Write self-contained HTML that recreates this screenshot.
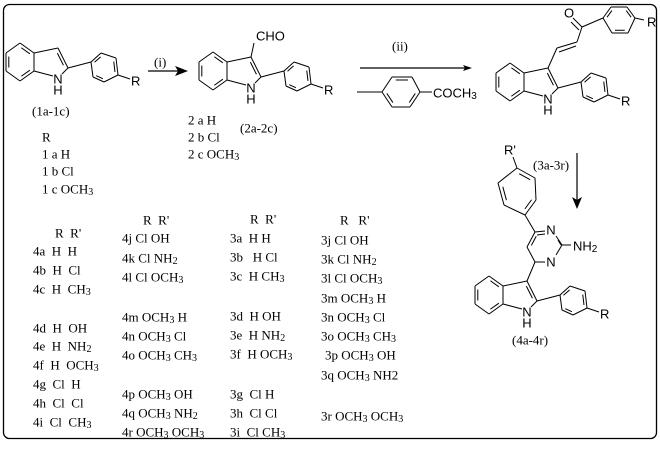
<!DOCTYPE html>
<html><head><meta charset="utf-8"><style>
html,body{margin:0;padding:0;background:#fff;}
svg{display:block;}
svg text{font-family:"Liberation Serif","Times New Roman","DejaVu Serif",serif;}
svg text.s{font-family:"Liberation Sans",Arial,sans-serif;}
</style></head><body>
<svg id="g" width="660" height="451" viewBox="0 0 660 451" xmlns="http://www.w3.org/2000/svg" font-size="13">
<rect x="3.5" y="4.5" width="653" height="434" rx="6" fill="none" stroke="#000" stroke-width="1.3"/>
<g stroke="#000" stroke-width="1" fill="none" id="L"></g>
<g stroke="#000" stroke-width="1.2">
<line x1="148" y1="71" x2="178" y2="71"/>
<line x1="360" y1="68" x2="465" y2="68"/>
<line x1="577" y1="153" x2="577" y2="200"/>
</g>
<polygon points="188,71 175,66 178,71 175,76" fill="#000"/>
<polygon points="472,68 463,65 465,68 463,71" fill="#000"/>
<polygon points="577,209 572,197 577,200 582,197" fill="#000"/>
<text x="154" y="62" dominant-baseline="central">(i)</text>
<text x="392" y="46" dominant-baseline="central">(ii)</text>
<text class="s" x="433" y="93" dominant-baseline="central">COCH<tspan font-size="10" dy="3">3</tspan></text>
<text x="32" y="111" dominant-baseline="central">(1a-1c)</text>
<text x="42" y="137" dominant-baseline="central">R</text>
<text x="42" y="154" dominant-baseline="central">1 a H</text>
<text x="42" y="171" dominant-baseline="central">1 b Cl</text>
<text x="42" y="189" dominant-baseline="central">1 c OCH<tspan font-size="10" dy="3">3</tspan></text>
<text x="188" y="120" dominant-baseline="central">2 a H</text>
<text x="188" y="137" dominant-baseline="central">2 b Cl</text>
<text x="188" y="154" dominant-baseline="central">2 c OCH<tspan font-size="10" dy="3">3</tspan></text>
<text x="240" y="128" dominant-baseline="central">(2a-2c)</text>
<text class="s" x="256" y="36" dominant-baseline="central">CHO</text>
<text x="533" y="165" dominant-baseline="central">(3a-3r)</text>
<text x="512" y="340" dominant-baseline="central">(4a-4r)</text>
<text class="s" x="504" y="150" dominant-baseline="central">R'</text>
<text class="s" x="569" y="13" text-anchor="middle" dominant-baseline="central">O</text>
<text class="s" x="647" y="22" dominant-baseline="central">R</text>
<text class="s" x="551" y="230" text-anchor="middle" dominant-baseline="central">N</text>
<text class="s" x="551" y="262" text-anchor="middle" dominant-baseline="central">N</text>
<text class="s" x="573" y="246" dominant-baseline="central">NH<tspan font-size="10" dy="3">2</tspan></text>
</svg>
<script>
var NS='http://www.w3.org/2000/svg';
var L=document.getElementById('L'),svg=document.getElementById('g');
function ln(a,b,c,d){var e=document.createElementNS(NS,'line');e.setAttribute('x1',a);e.setAttribute('y1',b);e.setAttribute('x2',c);e.setAttribute('y2',d);L.appendChild(e);}
function tx(x,y,s,sans,anc){var e=document.createElementNS(NS,'text');e.setAttribute('x',x);e.setAttribute('y',y);e.setAttribute('dominant-baseline','central');if(sans)e.setAttribute('class','s');if(anc)e.setAttribute('text-anchor',anc);e.innerHTML=s;svg.appendChild(e);}
function inner(p,q,c,f){
 var k=0.2,a=[p[0]+(c[0]-p[0])*k,p[1]+(c[1]-p[1])*k],b=[q[0]+(c[0]-q[0])*k,q[1]+(c[1]-q[1])*k];
 var dx=b[0]-a[0],dy=b[1]-a[1];f=f||0.12;
 ln(a[0]+dx*f,a[1]+dy*f,b[0]-dx*f,b[1]-dy*f);}
function ring(pts,dbl){var n=pts.length,cx=0,cy=0;pts.forEach(function(p){cx+=p[0];cy+=p[1];});cx/=n;cy/=n;
 for(var i=0;i<n;i++){var p=pts[i],q=pts[(i+1)%n];ln(p[0],p[1],q[0],q[1]);}
 (dbl||[]).forEach(function(i){inner(pts[i],pts[(i+1)%n],[cx,cy]);});}
function indole(cx,cy){
 function P(x,y){return [cx+x,cy+y];}
 var b=[P(0,-19),P(14,-9),P(14,9),P(0,19),P(-14,9),P(-14,-9)];
 ring(b,[0,2,4]);
 var C3=P(38,-14),C2=P(48,6),N=P(38,16);
 ln(b[1][0],b[1][1],C3[0],C3[1]);ln(C3[0],C3[1],C2[0],C2[1]);
 inner(C3,C2,P(30,2));
 ln(C2[0],C2[1],N[0]+4,N[1]-4);ln(b[2][0],b[2][1],N[0]-5,N[1]-2);
 tx(N[0],N[1]+1,'N',1,'middle');tx(N[0],N[1]+12,'H',1,'middle');
 var ph=[P(71,0),P(81,-9),P(96,-4),P(98,13),P(84,20),P(73,15)];
 ln(C2[0],C2[1],ph[0][0],ph[0][1]);
 ring(ph,[0,2,4]);
 ln(ph[3][0],ph[3][1],cx+110,cy+17);
 tx(cx+111,cy+19,'R',1);
 return {C3:C3};
}
indole(20,62);
var i2=indole(213,71);ln(i2.C3[0],i2.C3[1],i2.C3[0]+3,43);
var i3=indole(510,82);
ln(i3.C3[0],i3.C3[1],557,48);ln(557,48,577,42);ln(559,52,576,46);ln(577,42,582,27);
ln(582,27,573,18);ln(579,30,571,22);
var ph3=[[603,18],[611,7],[627,7],[635,18],[628,33],[612,33]];
ln(582,27,603,18);ring(ph3,[0,2,4]);ln(635,18,644,20);
var i4=indole(489,295);
ln(i4.C3[0],i4.C3[1],535,262);
ln(535,262,545,262);ln(535,262,527,247);ln(527,247,535,232);inner([527,247],[535,232],[545,246]);
ln(535,232,545,231);ln(537,235,545,234);
ln(556,236,562,245);ln(558,240,561,245);ln(562,245,556,255);ln(562,245,571,245);
var ph4=[[517,168],[535,178],[536,200],[525,215],[504,205],[498,183]];
ring(ph4,[0,2,4]);ln(525,215,535,232);ln(517,168,513,157);
var rr=[[382,92],[392,77],[412,77],[420,92],[410,107],[392,107]];
ring(rr,[1,3,5]);ln(357,92,382,92);ln(420,92,432,92);
function sub(s){
 return s.replace(/H3/g,'H<tspan font-size="10" dy="3">3</tspan><tspan dy="-3">\u200b</tspan>')
         .replace(/NH2/g,'NH<tspan font-size="10" dy="3">2</tspan><tspan dy="-3">\u200b</tspan>');}
var rows=[
[33,[[55,233,"R  R'"],[0,251,"4a  H  H"],[0,270,"4b  H  Cl"],[0,289,"4c  H  CH3"],[0,328,"4d  H  OH"],[0,346,"4e  H  NH2"],[0,365,"4f  H  OCH3"],[0,384,"4g  Cl  H"],[0,403,"4h  Cl  Cl"],[0,422,"4i  Cl  CH3"]]],
[122,[[143,220,"R  R'"],[0,238,"4j Cl OH"],[0,258,"4k Cl NH2"],[0,277,"4l Cl OCH3"],[0,317,"4m OCH3 H"],[0,336,"4n OCH3 Cl"],[0,355,"4o OCH3 CH3"],[0,394,"4p OCH3 OH"],[0,413,"4q OCH3 NH2"],[0,432,"4r OCH3 OCH3"]]],
[230,[[250,219,"R  R'"],[0,238,"3a  H H"],[0,257,"3b   H Cl"],[0,276,"3c  H CH3"],[0,316,"3d  H OH"],[0,335,"3e  H NH2"],[0,354,"3f  H OCH3"],[0,394,"3g  Cl H"],[0,413,"3h  Cl Cl"],[0,432,"3i  Cl CH3"]]],
[321,[[340,220,"R   R'"],[0,240,"3j Cl OH"],[0,259,"3k Cl NH2"],[0,278,"3l Cl OCH3"],[0,298,"3m OCH3 H"],[0,317,"3n OCH3 Cl"],[0,336,"3o OCH3 CH3"],[4,355,"3p OCH3 OH"],[0,375,"3q OCH3 NH2"],[0,416,"3r OCH3 OCH3"]]]];
rows.forEach(function(c){c[1].forEach(function(r){var x=r[0]>10?r[0]:c[0]+r[0];var s=r[2];
 if(s.indexOf('3q')==0){s=s.replace('OCH3','OCH<tspan font-size="10" dy="3">3</tspan><tspan dy="-3">\u200b</tspan>');}else s=sub(s);
 var e=document.createElementNS(NS,'text');e.setAttribute('x',x);e.setAttribute('y',r[1]);e.setAttribute('dominant-baseline','central');e.setAttribute('xml:space','preserve');e.style.whiteSpace='pre';e.innerHTML=s;svg.appendChild(e);});});
</script>
</body></html>
